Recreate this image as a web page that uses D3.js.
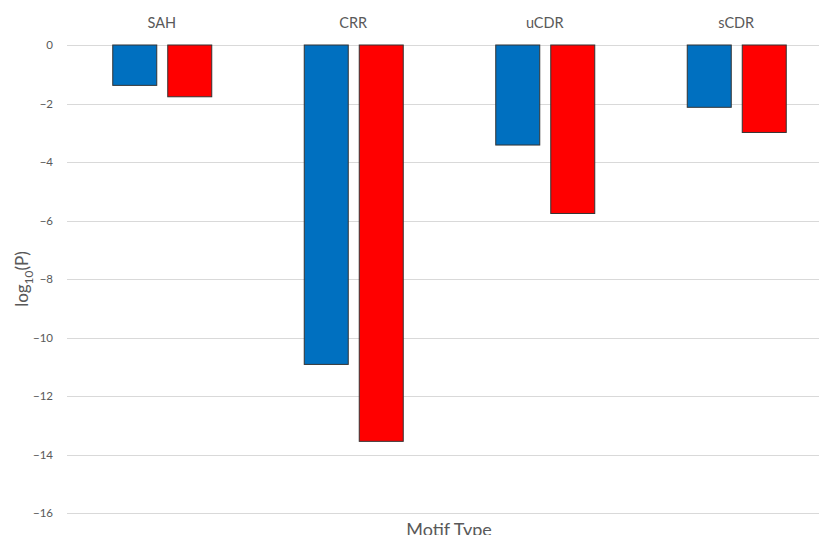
<!DOCTYPE html>
<html>
<head>
<meta charset="utf-8">
<script src="https://cdn.jsdelivr.net/npm/d3@7"></script>
<style>
  html, body { margin: 0; padding: 0; background: #fff; overflow: hidden; }
  svg { display: block; font-family: Lato, "Open Sans", sans-serif; }
</style>
</head>
<body>
<svg id="chart" width="819" height="535"></svg>
<script>
// Motif types and log10(P) for the two series
const categories = ["SAH", "CRR", "uCDR", "sCDR"];
const seriesA = [-1.38, -10.92, -3.42, -2.13];
const seriesB = [-1.77, -13.55, -5.76, -2.99];
const yTicks = [0, -2, -4, -6, -8, -10, -12, -14, -16];
const seriesColors = ["#0070C0", "#FF0000"];

const svg = d3.select("#chart");
const plot = { left: 66, right: 832, top: 45, bottom: 513 };

const x = d3.scaleBand().domain(categories).range([plot.left, plot.right]).paddingInner(0).paddingOuter(0);
const y = d3.scaleLinear().domain([0, -16]).range([plot.top, plot.bottom]);
const sub = d3.scaleBand().domain([0, 1]).range([0, 99]).paddingInner(0.2);

// gridlines
svg.append("g")
  .selectAll("line")
  .data(yTicks)
  .join("line")
  .attr("x1", plot.left + 1)
  .attr("x2", plot.right)
  .attr("y1", d => Math.round(y(d)) + 0.5)
  .attr("y2", d => Math.round(y(d)) + 0.5)
  .attr("stroke", "#d9d9d9")
  .attr("stroke-width", 1);

// y tick labels
const yAxis = d3.axisLeft(y).tickValues(yTicks).tickSize(0).tickPadding(0).tickFormat(d3.format("d"));
const ya = svg.append("g").attr("transform", `translate(${plot.left - 13},0)`).call(yAxis);
ya.select(".domain").remove();
ya.selectAll("text")
  .attr("fill", "#595959")
  .style("font-size", "11.5px")
  .style("font-family", "Lato, 'Open Sans', sans-serif");

// bars
const rows = categories.map((c, i) => ({ c, vals: [seriesA[i], seriesB[i]] }));
const groups = svg.append("g").selectAll("g")
  .data(rows)
  .join("g")
  .attr("transform", d => `translate(${x(d.c) + x.bandwidth() / 2 - 49.5},0)`);

groups.selectAll("rect")
  .data(d => d.vals.map((v, k) => ({ v, k })))
  .join("rect")
  .attr("x", d => sub(d.k) + 0.5)
  .attr("y", y(0))
  .attr("width", sub.bandwidth())
  .attr("height", d => y(d.v) - y(0))
  .attr("fill", d => seriesColors[d.k])
  .attr("stroke", "#333")
  .attr("stroke-width", 1);

// category labels along the top
svg.append("g").selectAll("text")
  .data(categories)
  .join("text")
  .attr("x", d => x(d) + x.bandwidth() / 2)
  .attr("y", 28)
  .attr("text-anchor", "middle")
  .attr("fill", "#595959")
  .style("font-size", "14.5px")
  .text(d => d);

// axis titles
const yt = svg.append("text")
  .attr("transform", `translate(28,${(plot.top + plot.bottom) / 2}) rotate(-90)`)
  .attr("text-anchor", "middle")
  .attr("fill", "#595959")
  .style("font-size", "17px");
yt.append("tspan").text("log");
yt.append("tspan").attr("dy", 5).style("font-size", "12px").text("10");
yt.append("tspan").attr("dy", -5).text("(P)");

svg.append("text")
  .attr("x", (plot.left + plot.right) / 2)
  .attr("y", 536)
  .attr("text-anchor", "middle")
  .attr("fill", "#595959")
  .style("font-size", "18px")
  .text("Motif Type");
</script>
</body>
</html>
